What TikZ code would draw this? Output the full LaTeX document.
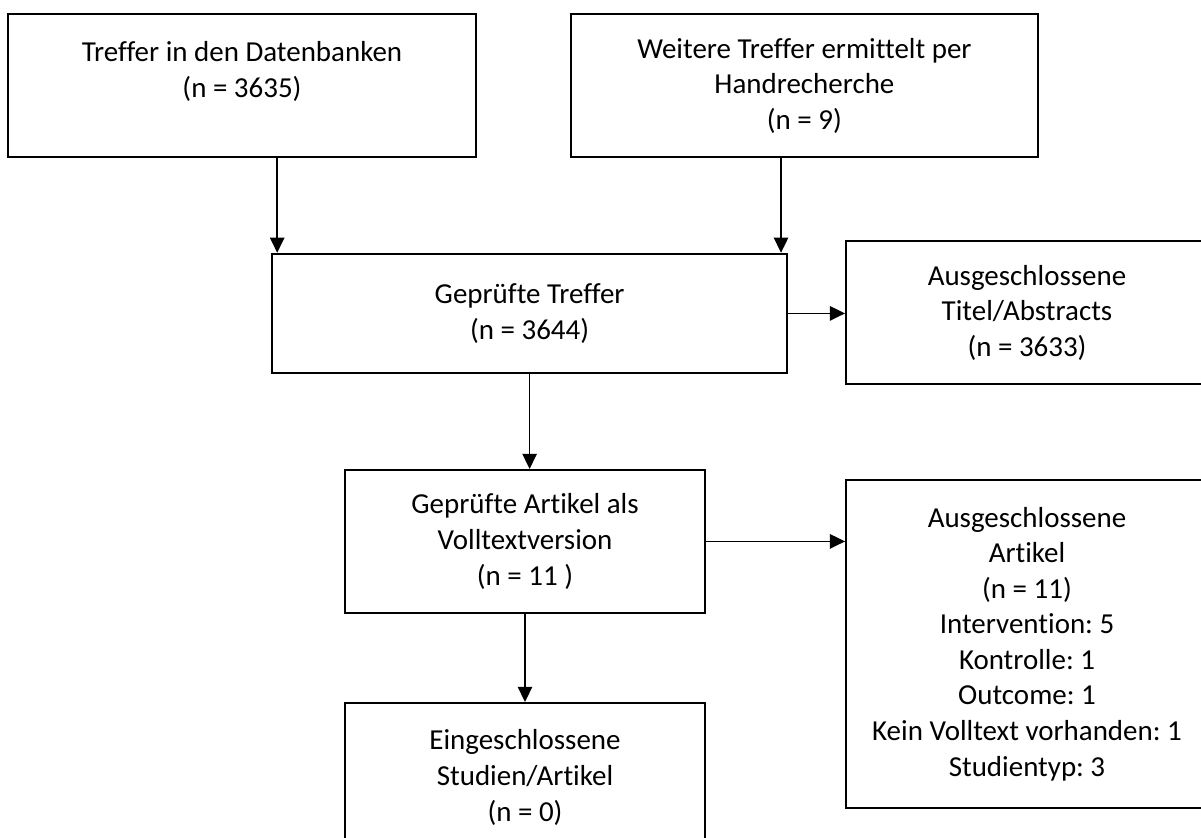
\documentclass[tikz,border=0pt]{standalone}
\usepackage{fontspec}
\setmainfont{Carlito}[Ligatures=NoCommon]
\usepackage{tikz}
\usetikzlibrary{
    positioning,
    arrows.meta
}
\frenchspacing

\begin{document}
\begin{tikzpicture}[font=\fontsize{20.6}{25.3}\selectfont,
    pbox/.style={draw, line width=1.3pt, minimum width=9.0cm, minimum height=3.575cm,
                 align=center, inner sep=0pt},
    arr/.style={-{Triangle[length=0.38cm, width=0.36cm]}, line width=1.1pt}]

    \useasboundingbox (0,0) rectangle (30.025,20.925);
    \clip (0,0) rectangle (30.025,20.925);

    % ============ TOP ROW: Suche ============
    \node[pbox, minimum width=11.71cm] (TD) at (6.05, 18.78)
      {Treffer in den Datenbanken\\(n = 3635)\\[-0.35cm]\strut};
    \node[pbox, minimum width=11.67cm] (TH) at (20.11, 18.78)
      {Weitere Treffer ermittelt per\\Handrecherche\\(n = 9)};

    % ============ MIDDLE: Screening ============
    \node[pbox, minimum width=12.875cm, minimum height=2.985cm] (GT) at (13.24, 13.09)
      {Geprüfte Treffer\\(n = 3644)};
    \node[pbox, minimum width=9.05cm] (AT) at (25.675, 13.11)
      {Ausgeschlossene\\Titel/Abstracts\\(n = 3633)};

    \draw[arr] ([xshift=0.15cm]GT.north west |- TD.south) -- ([xshift=0.15cm]GT.north west);
    \draw[arr] ([xshift=-0.175cm]GT.north east |- TH.south) -- ([xshift=-0.175cm]GT.north east);
    \draw[arr] (GT.east) -- (GT.east -| AT.west);

    % ============ BOTTOM: Volltext ============
    \node[pbox] (GA) at (13.125, 7.39)
      {Geprüfte Artikel als\\Volltextversion\\(n = 11 )};
    \node[pbox, minimum width=9.05cm, minimum height=8.19cm] (AA) at (25.675, 4.83)
      {Ausgeschlossene\\Artikel\\(n = 11)\\Intervention: 5\\Kontrolle: 1\\Outcome: 1\\Kein Volltext vorhanden: 1\\Studientyp: 3};
    \node[pbox, minimum height=3.725cm] (ES) at (13.125, 1.49)
      {Eingeschlossene\\Studien/Artikel\\(n = 0)};

    \draw[arr] (GT.south) -- (GT.south |- GA.north);
    \draw[arr] (GA.east) -- (GA.east -| AA.west);
    \draw[arr] (GA.south) -- (ES.north);

\end{tikzpicture}
\end{document}
